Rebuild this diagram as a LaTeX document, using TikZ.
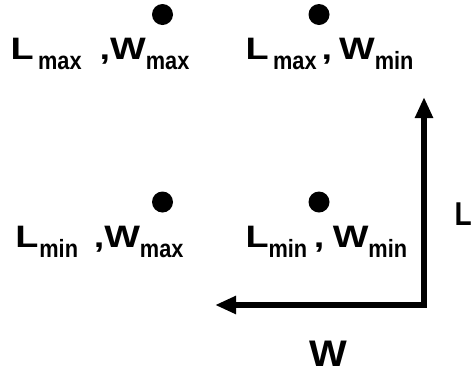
\documentclass[tikz,border=0pt]{standalone}
\usepackage{fontspec}
\setmainfont{Liberation Sans}
\usetikzlibrary{arrows.meta}
\newcommand\Mn[1]{\scalebox{1.22}[1]{\fontsize{31}{32}\selectfont\bfseries #1}}
\newcommand\Sb[1]{\raisebox{-10pt}{\scalebox{0.87}[1]{\fontsize{25}{26}\selectfont\bfseries #1}}}
\tikzset{
  dot/.style={circle,fill=black,inner sep=0pt,minimum size=21pt},
  lab/.style={anchor=base west,inner sep=0pt,outer sep=0pt},
  axis/.style={line width=5.5pt,line join=miter,{Triangle[length=21pt,width=17pt]}-{Triangle[length=21pt,width=17pt]}}
}
\begin{document}
\begin{tikzpicture}[x=1pt,y=1pt]
\useasboundingbox (0,0) rectangle (471,-376);
\node[dot] (d1) at (162.5,-14.5) {};
\node[dot] (d2) at (319,-14.5) {};
\node[dot] (d3) at (162.5,-202) {};
\node[dot] (d4) at (319,-202) {};
\node[lab] (t1) at (10.5,-59.5) {\Mn{L}\kern4.5pt\Sb{max}\kern18pt\Mn{,}\Mn{W}\Sb{max}};
\node[lab] (t2) at (245.5,-59.5) {\Mn{L}\kern4.5pt\Sb{max}\kern5pt\Mn{,}\kern7pt\Mn{W}\Sb{min}};
\node[lab] (t3) at (15.3,-247.5) {\Mn{L}\kern1pt\Sb{min}\kern15.7pt\Mn{,}\Mn{W}\Sb{max}};
\node[lab] (t4) at (245.5,-247.5) {\Mn{L}\Sb{min}\kern6.5pt\Mn{,}\kern8.5pt\Mn{W}\Sb{min}};
\node[lab] (xl) at (454.5,-225) {\scalebox{0.85}[1]{\fontsize{33}{34}\selectfont\bfseries L}};
\node[lab] (xw) at (309,-366) {\scalebox{1.08}[1]{\fontsize{37}{40}\selectfont\bfseries W}};
\coordinate (wtip) at (215,-305);
\coordinate (corner) at (424,-305);
\coordinate (ltip) at (424,-97);
\draw[axis] (wtip) -- (corner) -- (ltip);
\end{tikzpicture}
\end{document}
